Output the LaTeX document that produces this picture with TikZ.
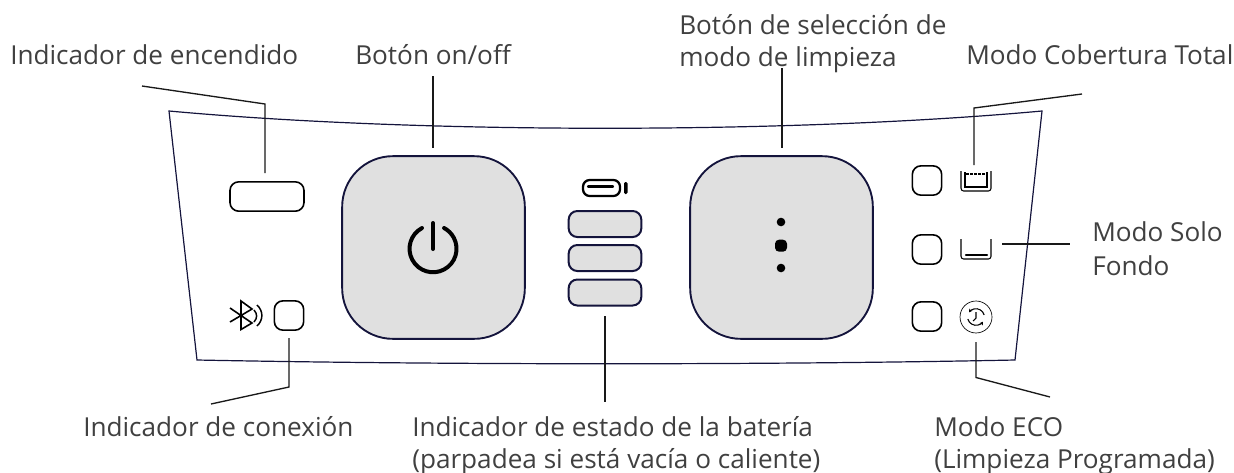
\documentclass[tikz,border=0pt]{standalone}
\usepackage{fontspec}
\usetikzlibrary{arrows.meta}
\setmainfont{Open Sans}
\definecolor{navy}{HTML}{14143C}
\definecolor{btn}{HTML}{E0E0E0}
\definecolor{txt}{HTML}{404040}
\tikzset{
 x=0.75pt,y=-0.75pt,
 lbl/.style={inner sep=0pt,font=\fontsize{19.6pt}{24pt}\selectfont,text=txt,anchor=base west,align=left},
 outl/.style={draw=navy,line width=0.9pt},
 lead/.style={draw=black!90,line width=1pt},
 ind/.style={draw=black,line width=1.2pt,rounded corners=6.5pt,fill=white,minimum width=22pt,minimum height=22pt,inner sep=0pt},
 big/.style={draw=navy,line width=1.4pt,fill=btn,rounded corners=38pt,minimum width=137pt,minimum height=137pt,inner sep=0pt},
 bat/.style={draw=navy,line width=1.5pt,fill=btn,rounded corners=6.5pt,minimum width=54.5pt,minimum height=19.5pt,inner sep=0pt},
 pill/.style={draw=black,line width=1.2pt,fill=white,rounded corners=6.5pt,minimum width=55.5pt,minimum height=22pt,inner sep=0pt},
 ico/.style={draw=black,line width=0.8pt},
 icob/.style={draw=black,line width=1.8pt,line cap=round},
 ecoarc/.style={draw=black,line width=0.8pt,-{Stealth[length=2.6pt,width=3pt]}},
}
\begin{document}
\begin{tikzpicture}
\useasboundingbox (0,0) rectangle (1234,472);
% outline
\draw[outl] (169,111) .. controls (420,134) and (790,134) .. (1042,111) -- (1015,360) .. controls (770,365) and (450,365) .. (197,360) -- cycle;
% nodes
\node[big] (power) at (433.5,247.5) {};
\node[big] (mode) at (781.5,247.5) {};
\node[pill] (pwrled) at (267,196.5) {};
\node[ind] (conn) at (289,315.5) {};
\node[ind] (m1) at (927,180.5) {};
\node[ind] (m2) at (927,249.5) {};
\node[ind] (m3) at (927,316.5) {};
\node[bat] (b1) at (605,224) {};
\node[bat] (b2) at (605,258) {};
\node[bat] (b3) at (605,292.5) {};
% labels
\node[lbl] (t1) at (10,64) {Indicador de encendido};
\node[lbl] (t2) at (355,64) {Botón on/off};
\node[lbl] (t3) at (679,34) {Botón de selección de};
\node[lbl] (t3b) at (679,66) {modo de limpieza};
\node[lbl] (t4) at (966,64) {Modo Cobertura Total};
\node[lbl] (t5) at (1092,241) {Modo Solo};
\node[lbl] (t5b) at (1092,275) {Fondo};
\node[lbl] (t6) at (83,436) {Indicador de conexión};
\node[lbl] (t7) at (412,436) {Indicador de estado de la batería};
\node[lbl] (t7b) at (412,468) {(parpadea si está vacía o caliente)};
\node[lbl] (t8) at (934,436) {Modo ECO};
\node[lbl] (t8b) at (934,468) {(Limpieza Programada)};
% leader lines
\coordinate (c1a) at (142,86); \coordinate (c1b) at (265,104); \coordinate (c1c) at (265,173);
\draw[lead] (c1a) -- (c1b) -- (c1c);
\coordinate (c2a) at (433,76); \coordinate (c2b) at (433,148);
\draw[lead] (c2a) -- (c2b);
\coordinate (c3a) at (782,68); \coordinate (c3b) at (782,148);
\draw[lead] (c3a) -- (c3b);
\coordinate (c4a) at (1082,94); \coordinate (c4b) at (974,108); \coordinate (c4c) at (974,165);
\draw[lead] (c4a) -- (c4b) -- (c4c);
\coordinate (c5a) at (1002,244); \coordinate (c5b) at (1070,244);
\draw[lead] (c5a) -- (c5b);
\coordinate (c6a) at (289,338); \coordinate (c6b) at (289,387); \coordinate (c6c) at (211,404);
\draw[lead] (c6a) -- (c6b) -- (c6c);
\coordinate (c7a) at (605,316); \coordinate (c7b) at (605,402);
\draw[lead] (c7a) -- (c7b);
\coordinate (c8a) at (976,342); \coordinate (c8b) at (976,377.5); \coordinate (c8c) at (1050,397);
\draw[lead] (c8a) -- (c8b) -- (c8c);
% power icon
\draw[draw=black,line width=3pt,line cap=round] (433,223) -- (433,249);
\draw[draw=black,line width=3pt,line cap=round] (422,228) arc[start angle=242,end angle=-62,radius=23.5];
% mode dots
\fill[black] (781,222) circle[radius=4.3];
\fill[black,rounded corners=3pt] (775,239.7) rectangle (787,251.7);
\fill[black] (781,268) circle[radius=4.3];
% battery icon
\draw[draw=black,line width=1.7pt,rounded corners=5pt] (583,180) rectangle (620,196);
\draw[draw=black,line width=1.7pt,line cap=round] (588,186.5) -- (613,186.5);
\fill[black,rounded corners=1pt] (624,182) rectangle (627.5,194);
% bluetooth
\draw[draw=black,line width=1.2pt] (230,308) -- (252,323) -- (241,329.5) -- (241,301) -- (252,309) -- (230,322);
\draw[draw=black,line width=1.1pt] (254,310) .. controls (257.5,314) and (257.5,318) .. (254,322);
\draw[draw=black,line width=1.1pt] (257,305) .. controls (263.5,311) and (263.5,320) .. (257,326);
% mode icons
\draw[ico,rounded corners=2pt] (961,171) -- (961,191) -- (991,191) -- (991,171);
\draw[icob,line cap=butt] (965,172) -- (965,187) -- (987,187) -- (987,172);
\draw[draw=black,line width=1.2pt,dash pattern=on 2pt off 1pt] (966,174) -- (986,174);
\draw[ico,rounded corners=2pt] (961,239) -- (961,259) -- (991,259) -- (991,239);
\draw[icob] (966,255) -- (987,255);
\draw[draw=black,line width=0.5pt] (976,317) circle[radius=16];
\draw[ecoarc] (984.2,315) arc[start angle=-15,end angle=-145,radius=8.5];
\draw[ecoarc] (967.8,319) arc[start angle=165,end angle=35,radius=8.5];
\draw[draw=black,line width=0.8pt] (976,312) -- (976,318) -- (973,321);
\end{tikzpicture}
\end{document}
